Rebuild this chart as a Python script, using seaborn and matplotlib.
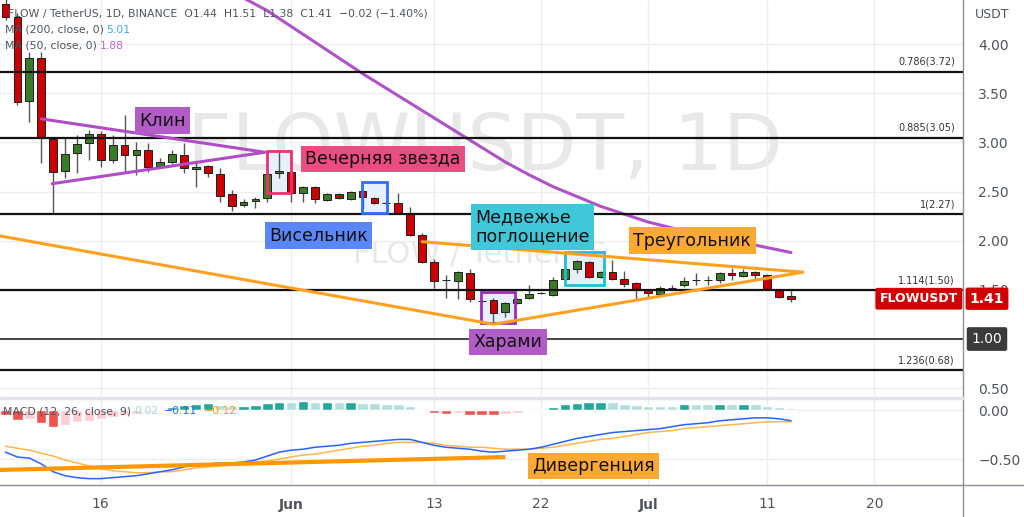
import numpy as np
import pandas as pd
import matplotlib
matplotlib.use("Agg")
import matplotlib.pyplot as plt
import matplotlib.transforms as mtransforms
from matplotlib.patches import Rectangle
from matplotlib.lines import Line2D
import seaborn as sns

sns.set_theme(style="white")
plt.rcParams["font.family"] = ["DejaVu Sans"]

# ---- data (FLOW/USDT daily, 2021-05-08 .. 2021-07-13) ----
first_day = "2021-05-08"
opens = [4.41, 4.28, 3.42, 3.86, 3.03, 2.71, 2.89, 2.99, 3.09, 2.82, 2.97, 2.87, 2.92, 2.76, 2.80, 2.87,
         2.73, 2.76, 2.68, 2.48, 2.36, 2.40, 2.43, 2.69, 2.70, 2.49, 2.55, 2.41, 2.48, 2.42, 2.51, 2.43,
         2.38, 2.38, 2.27, 2.06, 1.78, 1.60, 1.59, 1.67, 1.39, 1.40, 1.27, 1.37, 1.42, 1.47, 1.45, 1.61,
         1.71, 1.78, 1.63, 1.68, 1.61, 1.57, 1.50, 1.46, 1.52, 1.55, 1.60, 1.60, 1.60, 1.67, 1.64, 1.68,
         1.65, 1.50, 1.44]
highs = [4.55, 4.32, 3.92, 3.92, 3.05, 3.04, 3.08, 3.13, 3.12, 3.08, 3.28, 3.00, 2.99, 2.84, 2.92, 2.99,
         2.80, 2.77, 2.74, 2.52, 2.42, 2.44, 2.70, 2.90, 2.71, 2.56, 2.56, 2.49, 2.49, 2.51, 2.52, 2.44,
         2.40, 2.49, 2.34, 2.08, 1.81, 1.65, 1.69, 1.71, 1.40, 1.42, 1.38, 1.42, 1.55, 1.48, 1.63, 1.72,
         1.80, 1.79, 1.69, 1.80, 1.69, 1.58, 1.51, 1.54, 1.55, 1.63, 1.67, 1.64, 1.68, 1.72, 1.71, 1.69,
         1.66, 1.51, 1.51]
lows = [4.25, 3.38, 3.21, 2.79, 2.28, 2.64, 2.69, 2.82, 2.75, 2.79, 2.70, 2.67, 2.70, 2.74, 2.78, 2.69,
        2.55, 2.65, 2.39, 2.30, 2.34, 2.33, 2.39, 2.64, 2.39, 2.39, 2.38, 2.40, 2.42, 2.41, 2.33, 2.37,
        2.37, 2.27, 2.05, 1.77, 1.52, 1.42, 1.41, 1.38, 1.38, 1.16, 1.22, 1.36, 1.41, 1.46, 1.44, 1.60,
        1.67, 1.62, 1.62, 1.60, 1.53, 1.41, 1.43, 1.44, 1.51, 1.53, 1.55, 1.55, 1.57, 1.60, 1.63, 1.61,
        1.50, 1.42, 1.38]
closes = [4.28, 3.41, 3.86, 3.04, 2.70, 2.88, 2.98, 3.09, 2.82, 2.97, 2.87, 2.92, 2.75, 2.80, 2.88, 2.74,
          2.75, 2.69, 2.45, 2.35, 2.39, 2.42, 2.68, 2.71, 2.49, 2.55, 2.42, 2.48, 2.43, 2.50, 2.44, 2.38,
          2.38, 2.28, 2.06, 1.78, 1.59, 1.60, 1.68, 1.41, 1.39, 1.26, 1.37, 1.41, 1.46, 1.47, 1.60, 1.71,
          1.79, 1.63, 1.68, 1.61, 1.56, 1.51, 1.47, 1.52, 1.52, 1.59, 1.60, 1.60, 1.67, 1.65, 1.68, 1.65,
          1.51, 1.43, 1.41]

# MA(50) sampled every second day from 2021-05-26
ma50_start = "2021-05-26"
ma50 = [4.62, 4.47, 4.34, 4.18, 4.02, 3.86, 3.70, 3.55, 3.40, 3.25, 3.10, 2.95, 2.80,
        2.67, 2.55, 2.45, 2.35, 2.27, 2.19, 2.13, 2.07, 2.02, 1.98, 1.93, 1.88]

macd_line = [-0.43, -0.48, -0.49, -0.55, -0.63, -0.67, -0.69, -0.70, -0.70, -0.69, -0.68, -0.67, -0.65,
             -0.63, -0.61, -0.58, -0.56, -0.55, -0.54, -0.54, -0.53, -0.51, -0.47, -0.43, -0.41, -0.40,
             -0.38, -0.37, -0.36, -0.34, -0.33, -0.32, -0.31, -0.30, -0.30, -0.33, -0.36, -0.38, -0.39,
             -0.40, -0.42, -0.43, -0.42, -0.41, -0.40, -0.38, -0.35, -0.32, -0.29, -0.27, -0.25, -0.23,
             -0.22, -0.21, -0.20, -0.19, -0.17, -0.15, -0.14, -0.13, -0.11, -0.10, -0.09, -0.08, -0.08,
             -0.09, -0.11]
signal_line = [-0.37, -0.39, -0.41, -0.44, -0.47, -0.51, -0.54, -0.57, -0.60, -0.62, -0.63, -0.64, -0.64,
               -0.63, -0.63, -0.61, -0.59, -0.58, -0.57, -0.56, -0.54, -0.53, -0.52, -0.50, -0.48, -0.46,
               -0.45, -0.43, -0.41, -0.39, -0.37, -0.36, -0.34, -0.33, -0.33, -0.33, -0.34, -0.36, -0.37,
               -0.38, -0.38, -0.39, -0.40, -0.40, -0.40, -0.39, -0.38, -0.36, -0.34, -0.32, -0.30, -0.29,
               -0.27, -0.25, -0.23, -0.22, -0.21, -0.19, -0.18, -0.17, -0.16, -0.15, -0.14, -0.13, -0.12,
               -0.12, -0.12]
macd_hist = [-0.05, -0.10, -0.09, -0.13, -0.17, -0.15, -0.12, -0.11, -0.09, -0.07, -0.05, -0.04, -0.02,
             0.01, 0.03, 0.05, 0.06, 0.07, 0.05, 0.04, 0.045, 0.05, 0.07, 0.08, 0.078, 0.09, 0.08, 0.082,
             0.078, 0.08, 0.075, 0.07, 0.065, 0.06, 0.04, 0.015, -0.03, -0.04, -0.035, -0.05, -0.052,
             -0.055, -0.04, -0.03, -0.01, 0.01, 0.03, 0.06, 0.075, 0.078, 0.08, 0.077, 0.065, 0.055,
             0.045, 0.044, 0.043, 0.06, 0.058, 0.057, 0.062, 0.06, 0.063, 0.058, 0.045, 0.035, 0.02]

fib_levels = [3.72, 3.05, 2.27, 1.50, 0.68]
fib_labels = ["0.786(3.72)", "0.885(3.05)", "1(2.27)", "1.114(1.50)", "1.236(0.68)"]
level_line = 1.00
last_price = 1.41

# hand drawn figures (time, price)
wedge_t = ["2021-05-11 00:00", "2021-05-29 19:00", "2021-05-11 22:00"]
wedge_p = [3.24, 2.90, 2.58]
triangle_t = ["2021-05-07 00:00", "2021-06-18 00:00", "2021-07-14 00:00", "2021-06-12 00:00"]
triangle_p = [2.06, 1.15, 1.68, 1.99]
diverg_t = ["2021-05-07 00:00", "2021-06-19 00:00"]
diverg_m = [-0.613, -0.48]

# highlight boxes: start, end, low, high, edge colour
boxes = [("2021-05-30 00:00", "2021-06-01 00:00", 2.485, 2.91, "#f0306c"),
         ("2021-06-06 22:00", "2021-06-09 02:00", 2.28, 2.60, "#2e6bff"),
         ("2021-06-16 23:00", "2021-06-19 20:00", 1.16, 1.48, "#9b2db3"),
         ("2021-06-24 00:00", "2021-06-27 06:00", 1.55, 1.885, "#1cbfd6")]

# pattern labels: text, time, price, colour
labels = [("Клин", "2021-05-21 05:00", 3.22, "#b15cc7"),
          ("Вечерняя звезда", "2021-06-08 17:00", 2.83, "#ec4c82"),
          ("Висельник", "2021-06-03 07:00", 2.05, "#5b86f8"),
          ("Медвежье\nпоглощение", "2021-06-21 06:00", 2.14, "#3ec8da"),
          ("Треугольник", "2021-07-04 17:00", 2.00, "#ffa833"),
          ("Харами", "2021-06-19 05:00", 0.97, "#b15cc7")]

tick_dates = ["2021-05-16", "2021-06-01", "2021-06-13", "2021-06-22", "2021-07-01", "2021-07-11", "2021-07-20"]
tick_labels = ["16", "Jun", "13", "22", "Jul", "11", "20"]
price_ticks = [0.5, 1.0, 1.5, 2.0, 2.5, 3.0, 3.5, 4.0]
macd_ticks = [-0.5, 0.0]

# ---- figure ----
W, H = 1024, 517
fig = plt.figure(figsize=(W / 100, H / 100), dpi=100)
fig.patch.set_facecolor("white")
ax = fig.add_axes([0, 1 - 398 / H, 963 / W, 398 / H])
axm = fig.add_axes([0, 1 - 485 / H, 963 / W, 87 / H], sharex=ax)

dates = pd.date_range(first_day, periods=len(opens), freq="D")
o, h, l, c = map(np.array, (opens, highs, lows, closes))

txt_col = "#50535e"
grid_col = "#ebedf1"

for a in (ax, axm):
    a.set_facecolor("white")
    for s in a.spines.values():
        s.set_visible(False)
    a.yaxis.tick_right()
    a.tick_params(axis="y", length=0, pad=11, labelsize=10, labelcolor=txt_col)
    a.tick_params(axis="x", length=0)
    a.set_xticks(pd.to_datetime(tick_dates))
    a.grid(True, color=grid_col, lw=1)

ax.set_xlim(pd.Timestamp("2021-05-07 12:50"), pd.Timestamp("2021-07-27 10:50"))
ax.set_ylim(0.40, 4.449)
ax.set_yticks(price_ticks)
# the 1.00 level carries its own tag on the axis
ax.set_yticklabels(["" if v == level_line else f"{v:.2f}" for v in price_ticks])
ax.tick_params(axis="x", labelbottom=False)

axm.set_ylim(-0.765, 0.1224)
axm.set_yticks(macd_ticks)
axm.set_yticklabels(["\u22120.50", "0.00"])
axm.set_xticklabels(tick_labels)
axm.tick_params(axis="x", pad=9, labelsize=10, labelcolor=txt_col)
for lab in axm.get_xticklabels():
    if lab.get_text() in ("Jun", "Jul"):
        lab.set_fontweight("bold")

# watermark
ax.text(485 / 963, 1 - 148 / 398, "FLOWUSDT, 1D", transform=ax.transAxes, ha="center", va="center",
        fontsize=56, color="#e8e8e8", zorder=0)
ax.text(480 / 963, 1 - 255 / 398, "FLOW / TetherUS", transform=ax.transAxes, ha="center", va="center",
        fontsize=22, color="#e8e8e8", zorder=0)

# highlight box fills
for t0, t1, lo, hi, ec in boxes:
    t0, t1 = pd.Timestamp(t0), pd.Timestamp(t1)
    ax.add_patch(Rectangle((t0, lo), t1 - t0, hi - lo, fc="#e6effa", ec="none", zorder=1))

# candles
up = c > o
flat = c == o
body_col = np.where(flat, "#1e1e1e", np.where(up, "#3b7a26", "#cc0000"))
ax.vlines(dates, l, h, color="#555555", lw=1, zorder=2)
ax.bar(dates, np.abs(c - o), bottom=np.minimum(o, c), width=0.66, color=body_col,
       edgecolor="#1e1e1e", linewidth=0.7, zorder=3)

# MA 50
ma_dates = pd.date_range(ma50_start, periods=len(ma50), freq="2D")
sns.lineplot(x=ma_dates, y=ma50, ax=ax, color="#ae52c6", lw=2.2, legend=False, zorder=4)

# fib / level lines
blend = mtransforms.blended_transform_factory(fig.transFigure, ax.transData)
for lv, lb in zip(fib_levels, fib_labels):
    ax.axhline(lv, color="#111111", lw=1.6, zorder=5)
    ax.annotate(lb, xy=(955 / W, lv), xycoords=blend, xytext=(0, 7), textcoords="offset points",
                ha="right", va="center", fontsize=7, color="#333333", zorder=6)
ax.axhline(level_line, color="#444444", lw=1.4, zorder=5)

# box outlines
for t0, t1, lo, hi, ec in boxes:
    t0, t1 = pd.Timestamp(t0), pd.Timestamp(t1)
    ax.add_patch(Rectangle((t0, lo), t1 - t0, hi - lo, fc="none", ec=ec, lw=2, zorder=6))

# wedge and triangle
ax.plot(pd.to_datetime(wedge_t), wedge_p, color="#b04cc6", lw=2.2, zorder=6, solid_capstyle="round")
ax.plot(pd.to_datetime(triangle_t), triangle_p, color="#ffa020", lw=2.2, zorder=6, solid_capstyle="round")

for txt, t, p, fc in labels:
    ax.text(pd.Timestamp(t), p, txt, ha="center", va="center", fontsize=12.5, color="#111111",
            multialignment="left", zorder=7, linespacing=1.1,
            bbox=dict(boxstyle="square,pad=0.25", fc=fc, ec="none"))

# MACD panel
hist = np.array(macd_hist)
prev = np.r_[0.0, hist[:-1]]
hcol = np.where(hist >= 0, np.where(hist >= prev, "#26a69a", "#b2dfdb"),
                np.where(hist < prev, "#ef5350", "#ffcdd2"))
axm.bar(dates, hist, width=0.88, color=hcol, zorder=2)
sns.lineplot(x=dates, y=signal_line, ax=axm, color="#ffb74d", lw=1.1, legend=False, zorder=3)
sns.lineplot(x=dates, y=macd_line, ax=axm, color="#2962ff", lw=1.1, legend=False, zorder=3)
axm.plot(pd.to_datetime(diverg_t), diverg_m, color="#ff9800", lw=3, zorder=4, solid_capstyle="butt")
axm.text(pd.Timestamp("2021-06-26 09:00"), -0.57, "Дивергенция", ha="center", va="center",
         fontsize=12.5, color="#111111", zorder=5,
         bbox=dict(boxstyle="square,pad=0.25", fc="#ffa833", ec="none"))

for a in (ax, axm):
    a.set_xlabel("")
    a.set_ylabel("")

# frame lines
fig.add_artist(Line2D([963 / W, 963 / W], [0, 1], color="#8c8f99", lw=1))
fig.add_artist(Line2D([0, 1], [1 - 485 / H, 1 - 485 / H], color="#8c8f99", lw=1))
fig.add_artist(Line2D([0, 963 / W], [1 - 398 / H, 1 - 398 / H], color="#e0e3eb", lw=2.5))

# price tags on the axis
ax.text(987 / W, last_price, "1.41", transform=blend, ha="center", va="center", fontsize=10,
        fontweight="bold", color="white", zorder=10, clip_on=False,
        bbox=dict(boxstyle="round,pad=0.3,rounding_size=0.15", fc="#d10000", ec="none"))
ax.text(958 / W, last_price, "FLOWUSDT", transform=blend, ha="right", va="center", fontsize=9,
        fontweight="bold", color="white", zorder=10, clip_on=False,
        bbox=dict(boxstyle="round,pad=0.35,rounding_size=0.15", fc="#d10000", ec="none"))
ax.text(987 / W, level_line, "1.00", transform=blend, ha="center", va="center", fontsize=10,
        color="white", zorder=10, clip_on=False,
        bbox=dict(boxstyle="round,pad=0.35,rounding_size=0.15", fc="#3b3b3b", ec="none"))

# legends
def ftxt(px, py, s, col=txt_col, size=7.8):
    fig.text(px / W, 1 - py / H, s, ha="left", va="center", fontsize=size, color=col, zorder=20)

ftxt(8, 13, "FLOW / TetherUS, 1D, BINANCE  O1.44  H1.51  L1.38  C1.41  \u22120.02 (\u22121.40%)")
ftxt(5, 30, "MA (200, close, 0)")
ftxt(106, 30, "5.01", col="#42a5f5")
ftxt(5, 46, "MA (50, close, 0)")
ftxt(100, 46, "1.88", col="#ba68c8")
ftxt(3, 411, "MACD (12, 26, close, 9)")
ftxt(134, 411, "0.02", col="#a8d9d4")
ftxt(164, 411, "\u22120.11", col="#2962ff")
ftxt(204, 411, "\u22120.12", col="#ff9800")
ftxt(975, 14, "USDT", size=9)

fig.savefig("out.png", dpi=100)
